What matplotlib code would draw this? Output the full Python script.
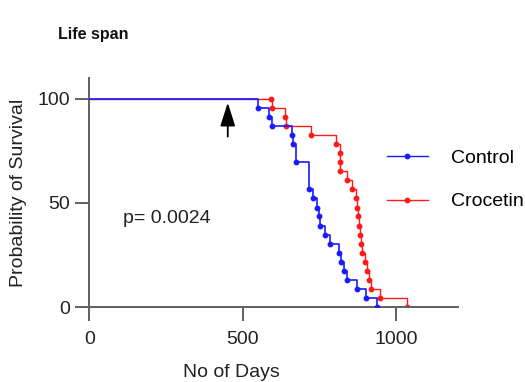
import matplotlib.pyplot as plt
import numpy as np

plt.rcParams['font.family'] = ['Liberation Sans', 'DejaVu Sans']

# Kaplan-Meier steps (day of event, % surviving after it)
control_days = [551, 584, 594, 659, 662, 673, 714, 729, 743, 748, 750, 768,
                783, 813, 819, 829, 840, 873, 900, 937]
control_pct = [95.7, 91.3, 87.0, 82.6, 78.3, 69.6, 56.5, 52.2, 47.8, 43.5, 39.1, 34.8,
               30.4, 26.1, 21.7, 17.4, 13.0, 8.7, 4.3, 0.0]

crocetin_days = [592, 595, 638, 642, 721, 802, 815, 817, 818, 840, 857, 867,
                 873, 875, 878, 883, 885, 887, 897, 905, 910, 919, 946, 1035]
crocetin_pct = [100.0, 95.7, 91.3, 87.0, 82.6, 78.3, 73.9, 69.6, 65.2, 60.9, 56.5, 52.2,
                47.8, 43.5, 39.1, 34.8, 30.4, 26.1, 21.7, 17.4, 13.0, 8.7, 4.3, 0.0]

x_ticks = [0, 500, 1000]
y_ticks = [0, 50, 100]
p_text = "p= 0.0024"
arrow_day = 451

fig = plt.figure(figsize=(5.25, 3.82), dpi=100)
ax = fig.add_axes([0.170, 0.196, 0.702, 0.600])

axis_col = '#606060'
fs = 14

series = [
    ("Crocetin", crocetin_days, crocetin_pct, '#ff1a1a', 2, 1.0),
    ("Control", control_days, control_pct, '#1a1aff', 3, 1.2),
]
handles = {}
for name, d, p, col, z, lw in series:
    xs = np.r_[0, d]
    ys = np.r_[100, p]
    ax.step(xs, ys, where='post', color=col, lw=lw, zorder=z)
    ax.plot(d, p, 'o', color=col, ms=3.2, zorder=z)
    handles[name], = ax.plot([], [], '-o', color=col, lw=1.0, ms=3.2)

ax.annotate('', xy=(arrow_day, 99.5), xytext=(arrow_day, 80.5),
            arrowprops=dict(arrowstyle='-|>,head_length=1.2,head_width=0.38',
                            mutation_scale=12, color='black', lw=1.3))

ax.text(109, 42.6, p_text, fontsize=fs, va='center', ha='left', color='#222222')

ax.set_xlim(0, 1200)
ax.set_ylim(0, 110)
ax.set_xticks(x_ticks)
ax.set_yticks(y_ticks)
for s in ['top', 'right']:
    ax.spines[s].set_visible(False)
for s in ['left', 'bottom']:
    ax.spines[s].set_color(axis_col)
    ax.spines[s].set_linewidth(1.4)
ax.tick_params(axis='both', direction='out', length=10, width=1.4, color=axis_col,
               labelsize=fs, labelcolor='#222222')
ax.tick_params(axis='x', pad=7)
ax.tick_params(axis='y', pad=4)

ax.set_xlabel("No of Days", fontsize=fs, color='#222222')
ax.xaxis.set_label_coords(0.385, -0.25)
ax.set_ylabel("Probability of Survival", fontsize=fs, color='#222222')
ax.yaxis.set_label_coords(-0.17, 0.5)

fig.text(58 / 525, 1 - 34 / 382, "Life span", fontsize=11.5, fontweight='bold',
         va='center', ha='left', color='#111111')

fig.legend([handles["Control"], handles["Crocetin"]], ["Control", "Crocetin"],
           loc='upper left', bbox_to_anchor=(387 / 525, 1 - 149 / 382),
           frameon=False, fontsize=fs, handlelength=2.1, handletextpad=1.2,
           labelspacing=1.35, borderpad=0, borderaxespad=0)

fig.savefig('out.png', dpi=100)
